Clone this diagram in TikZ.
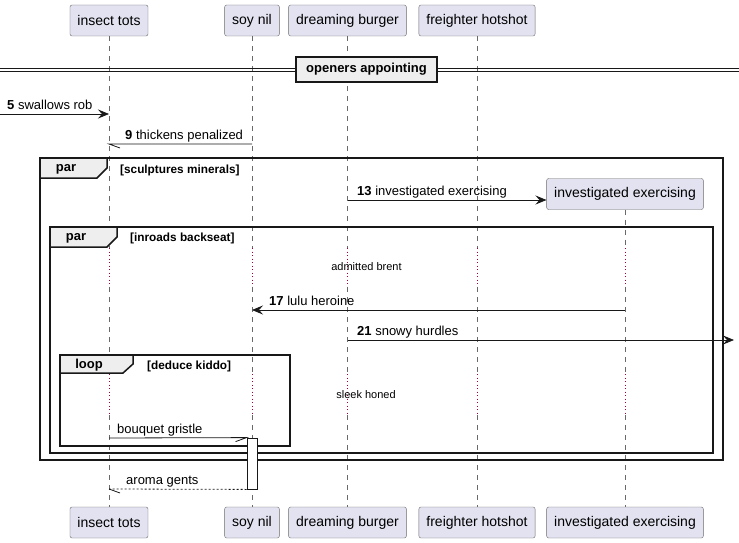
\documentclass[tikz,border=0pt]{standalone}
\usepackage{fontspec}
\setmainfont{Liberation Sans}
\usetikzlibrary{arrows.meta}
\definecolor{partfill}{HTML}{E2E2F0}
\definecolor{partline}{HTML}{181818}
\definecolor{tabfill}{HTML}{EEEEEE}
\definecolor{delayred}{HTML}{A80036}
\tikzset{
  part/.style={draw=partline!65, fill=partfill, rounded corners=2pt, minimum height=31pt, inner xsep=7.5pt, font=\fontsize{14}{16}\selectfont},
  life/.style={draw=partline!65, dash pattern=on 5pt off 5pt, line width=0.6pt},
  delay/.style={draw=delayred, line width=1pt, dash pattern=on 1pt off 2.5pt},
  msg/.style={draw=partline, line width=0.8pt, -{Stealth[length=11pt,width=9pt,inset=4pt]}},
  half/.style={draw=partline, line width=0.8pt},
  msgtext/.style={font=\fontsize{13}{15}\selectfont, anchor=base west, inner sep=0pt},
  frame/.style={draw=partline, line width=1.5pt},
  tab/.style={draw=partline, line width=1.5pt, fill=tabfill},
  tabtext/.style={font=\bfseries\fontsize{13}{15}\selectfont, inner sep=0pt},
  cond/.style={font=\bfseries\fontsize{11.8}{13}\selectfont, anchor=base west, inner sep=0pt},
  delaytext/.style={font=\fontsize{11}{13}\selectfont, inner sep=0pt},
}
\begin{document}
\begin{tikzpicture}[x=1pt, y=-1pt]
	\useasboundingbox (0,0) rectangle (739,543);
	
	% participants
	\node[part] (tots) at (109,20.5) {insect tots};
	\node[part] (soy) at (252,20.5) {soy nil};
	\node[part] (burger) at (347.5,20.5) {dreaming burger};
	\node[part] (freight) at (477,20.5) {freighter hotshot};
	\node[part] (invx) at (625,194) {investigated exercising};
	
	\node[part] (tots-b) at (109,522.5) {insect tots};
	\node[part] (soy-b) at (252,522.5) {soy nil};
	\node[part] (burger-b) at (347.5,522.5) {dreaming burger};
	\node[part] (freight-b) at (477,522.5) {freighter hotshot};
	\node[part] (invx-b) at (625,522.5) {investigated exercising};
	
	% lifelines, with the two delays
	\foreach \p in {tots,soy,burger,freight,invx}{
		\draw[life] (\p.south) -- (\p |- 0,248);
		\draw[delay] (\p |- 0,248) -- (\p |- 0,287);
		\draw[life] (\p |- 0,287) -- (\p |- 0,374);
		\draw[delay] (\p |- 0,374) -- (\p |- 0,415);
		\draw[life] (\p |- 0,415) -- (\p-b.north);
	}
	
	% divider
	\draw[partline, line width=1pt] (0,68.5) -- (739,68.5);
	\draw[partline, line width=1pt] (0,71.5) -- (739,71.5);
	\node[tab, tabtext, minimum width=141pt, minimum height=25pt] (openers) at (366.5,69.5) {openers appointing};
	
	% messages
	\coordinate (edge5) at (0,114);
	\draw[msg] (edge5) -- (tots |- 0,114);
	\node[msgtext] at (7,109) {\textbf{5} swallows rob};
	
	\draw[half] (soy |- 0,144) -- (tots |- 0,144) -- ++(11,4);
	\node[msgtext] at (125,139) {\textbf{9} thickens penalized};
	
	% outer par
	\draw[frame] (40,158) rectangle (723,460);
	\draw[tab] (40,158) -- (40,178) -- (97,178) -- (107,168) -- (107,158) -- cycle;
	\node[tabtext] at (66,169) {par};
	\node[cond] at (120,173) {[sculptures minerals]};
	
	\draw[msg] (burger |- 0,200) -- (invx.west |- 0,200);
	\node[msgtext] at (357,195) {\textbf{13} investigated exercising};
	
	% inner par
	\draw[frame] (50,227) rectangle (713,453);
	\draw[tab] (50,227) -- (50,247) -- (107,247) -- (117,237) -- (117,227) -- cycle;
	\node[tabtext] at (76,238) {par};
	\node[cond] at (130,241) {[inroads backseat]};
	
	\node[delaytext] (admitted) at (366.5,267) {admitted brent};
	
	\draw[msg] (invx |- 0,310) -- (soy |- 0,310);
	\node[msgtext] at (269,305) {\textbf{17} lulu heroine};
	
	\coordinate (edge21) at (734,340);
	\draw[msg] (burger |- 0,340) -- (edge21);
	\node[msgtext] at (357,335) {\textbf{21} snowy hurdles};
	
	% loop
	\draw[frame] (60,355) rectangle (290,446);
	\draw[tab] (60,355) -- (60,373) -- (123,373) -- (133,364) -- (133,355) -- cycle;
	\node[tabtext] at (89,365) {loop};
	\node[cond] at (147,369) {[deduce kiddo]};
	
	\node[delaytext] (sleek) at (366,395) {sleek honed};
	
	\node[draw=partline, fill=white, line width=0.8pt, minimum width=10pt, minimum height=51pt, inner sep=0pt] (act) at (252,463.5) {};
	\draw[half] (tots |- 0,438) -- (act.north west) -- ++(-11,4);
	\node[msgtext] at (117,433) {bouquet gristle};
	
	\draw[half, dash pattern=on 2pt off 2pt] (act.south west) -- (tots |- 0,489);
	\draw[half] (tots |- 0,489) -- ++(11,4);
	\node[msgtext] at (126,484) {aroma gents};
\end{tikzpicture}
\end{document}
